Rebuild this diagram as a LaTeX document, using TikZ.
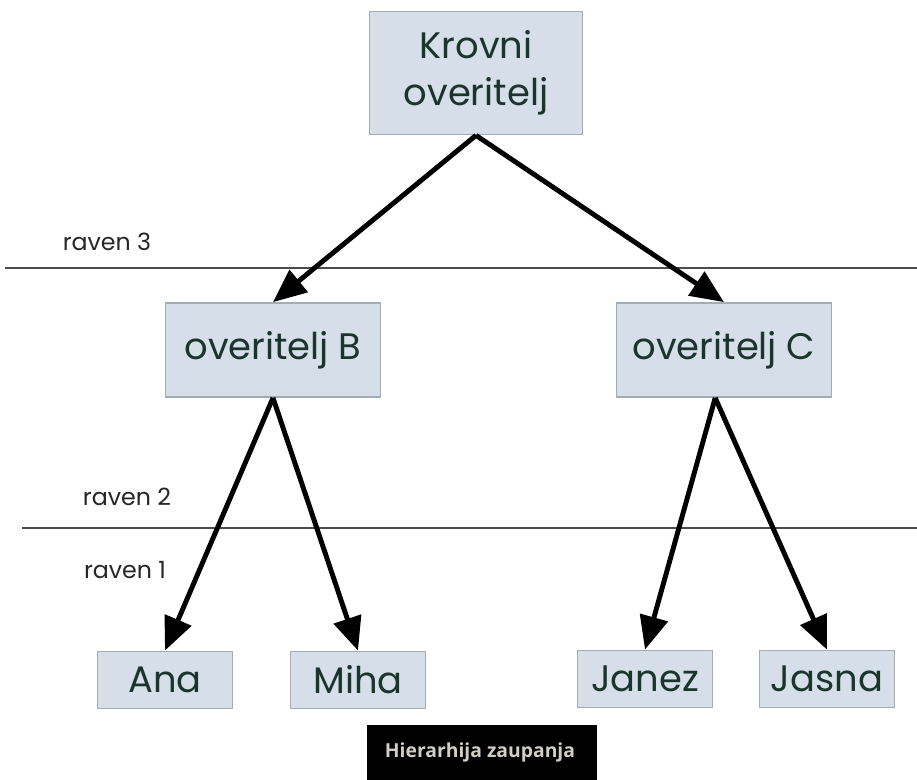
\documentclass[tikz,border=0pt]{standalone}
\usepackage{fontspec}
\setmainfont{Poppins}
\newfontfamily\capfont{Open Sans}
\usetikzlibrary{arrows.meta}

\definecolor{boxfill}{HTML}{D5DEE9}
\definecolor{boxline}{HTML}{A3ABB4}
\definecolor{boxtext}{HTML}{1B352D}
\definecolor{captext}{HTML}{D2CEC6}

\tikzset{
  ca/.style={draw=boxline,fill=boxfill,text=boxtext,line width=1pt,
    inner sep=0pt,align=center,font=\fontsize{21}{27}\selectfont},
  leaf/.style={ca,minimum width=2.7cm,minimum height=1.14cm},
  mid/.style={ca,minimum width=4.3cm,minimum height=1.88cm},
  level/.style={text=black!85,font=\fontsize{13.5}{16}\selectfont},
  trust/.style={line width=2.8pt,-{Triangle[length=19pt,width=16pt]}},
  sep/.style={draw=black!70,line width=1pt}
}

\begin{document}
\begin{tikzpicture}[x=0.02cm,y=-0.02cm]
  \useasboundingbox (0,0) rectangle (917,780);

  % levels
  \draw[sep] (5,268) -- (917,268);
  \draw[sep] (22,528) -- (917,528);
  \node[level] (l3) at (107,242) {raven 3};
  \node[level] (l2) at (127,497) {raven 2};
  \node[level] (l1) at (125,570) {raven 1};

  % certificate authorities
  \node[ca,minimum width=4.26cm,minimum height=2.46cm] (root) at (476,73) {Krovni\\overitelj};
  \node[mid] (b) at (273,350) {overitelj B};
  \node[mid] (c) at (724,350) {overitelj C};

  % users
  \node[leaf] (ana) at (165,680) {Ana};
  \node[leaf] (miha) at (358,680) {Miha};
  \node[leaf] (janez) at (645,679) {Janez};
  \node[leaf] (jasna) at (827,679) {Jasna};

  \draw[trust] (root.south) -- (b.north);
  \draw[trust] (root.south) -- (c.north);
  \draw[trust] (b.south) -- (ana.north);
  \draw[trust] (b.south) -- (miha.north);
  \draw[trust] ([xshift=-5]c.south) -- (janez.north);
  \draw[trust] ([xshift=-5]c.south) -- (jasna.north);

  % caption
  \fill[black] (367,725) rectangle (597,780);
  \node[text=captext,font=\capfont\bfseries\fontsize{11}{13}\selectfont]
    (cap) at (480,752) {Hierarhija zaupanja};
\end{tikzpicture}
\end{document}
